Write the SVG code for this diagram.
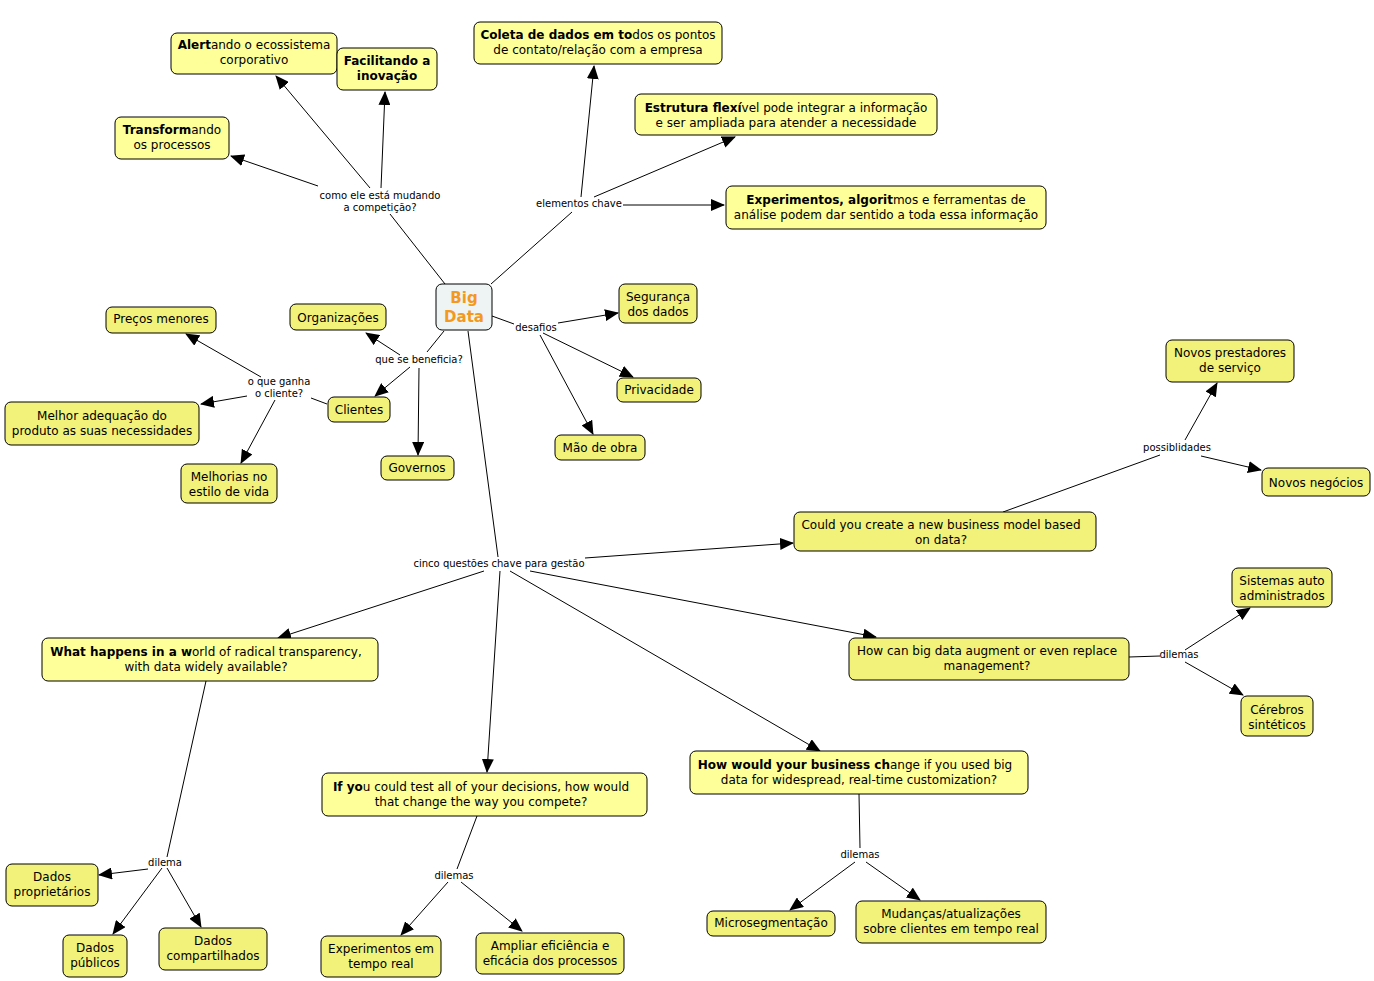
<svg xmlns="http://www.w3.org/2000/svg" width="1374" height="981" viewBox="0 0 1374 981">
<style>
.n1{fill:#ffff99;stroke:#000;stroke-width:1}
.n2{fill:#f2f27a;stroke:#000;stroke-width:1}
.nc{fill:#eef4f4;stroke:#000;stroke-width:1}
text{font-family:"DejaVu Sans","Liberation Sans",sans-serif;fill:#000}
.t{font-size:12px;text-anchor:middle}
.b{font-weight:bold}
.l{font-size:10px;text-anchor:middle}
.c{font-size:15px;font-weight:bold;fill:#f39a1e;text-anchor:middle}
#links line,#links polyline{stroke:#000;stroke-width:1;fill:none}
.a{marker-end:url(#ah)}
</style>
<defs>
<marker id="ah" markerUnits="userSpaceOnUse" markerWidth="14" markerHeight="12" viewBox="0 0 14 12" refX="13" refY="6" orient="auto">
<path d="M0,0 L14,6 L0,12 z" fill="#000"/>
</marker>
</defs>
<rect width="1374" height="981" fill="#fff"/>
<g id="links">
<line x1="445" y1="284" x2="390" y2="214"/>
<line class="a" x1="318" y1="186" x2="231" y2="156"/>
<line class="a" x1="370" y1="188" x2="276" y2="76"/>
<line class="a" x1="381" y1="188" x2="385" y2="92"/>
<line x1="491" y1="284" x2="572" y2="212"/>
<line class="a" x1="581" y1="197" x2="594" y2="66"/>
<line class="a" x1="594" y1="197" x2="735" y2="137"/>
<line class="a" x1="623" y1="205" x2="724" y2="205"/>
<line x1="492" y1="316" x2="514" y2="324"/>
<line class="a" x1="558" y1="323" x2="618" y2="313"/>
<line class="a" x1="543" y1="333" x2="633" y2="377"/>
<line class="a" x1="540" y1="335" x2="593" y2="434"/>
<line x1="444" y1="331" x2="427" y2="352"/>
<line class="a" x1="400" y1="355" x2="366" y2="333"/>
<line class="a" x1="410" y1="367" x2="375" y2="396"/>
<line class="a" x1="419" y1="368" x2="418" y2="455"/>
<line x1="327" y1="404" x2="311" y2="398"/>
<line class="a" x1="261" y1="377" x2="186" y2="334"/>
<line class="a" x1="247" y1="396" x2="201" y2="404"/>
<line class="a" x1="275" y1="400" x2="241" y2="463"/>
<line x1="468" y1="331" x2="498" y2="557"/>
<line class="a" x1="585" y1="558" x2="793" y2="543"/>
<line class="a" x1="484" y1="571" x2="278" y2="638"/>
<line class="a" x1="500" y1="571" x2="487" y2="772"/>
<line class="a" x1="510" y1="571" x2="820" y2="751"/>
<line class="a" x1="530" y1="571" x2="876" y2="637"/>
<line x1="1003" y1="512" x2="1160" y2="455"/>
<line class="a" x1="1185" y1="440" x2="1217" y2="383"/>
<line class="a" x1="1201" y1="456" x2="1261" y2="470"/>
<line x1="1129" y1="657" x2="1160" y2="656"/>
<line class="a" x1="1185" y1="650" x2="1250" y2="608"/>
<line class="a" x1="1185" y1="662" x2="1243" y2="695"/>
<line x1="206" y1="681" x2="167" y2="857"/>
<line class="a" x1="148" y1="869" x2="99" y2="875"/>
<line class="a" x1="162" y1="868" x2="113" y2="934"/>
<line class="a" x1="167" y1="868" x2="201" y2="927"/>
<line x1="477" y1="816" x2="457" y2="869"/>
<line class="a" x1="448" y1="882" x2="401" y2="935"/>
<line class="a" x1="461" y1="882" x2="522" y2="931"/>
<line x1="859" y1="794" x2="860" y2="848"/>
<line class="a" x1="855" y1="862" x2="790" y2="910"/>
<line class="a" x1="866" y1="862" x2="920" y2="900"/>
</g>
<g id="linklabels">
<text class="l" x="380" y="199">como ele está mudando</text>
<text class="l" x="380" y="211">a competição?</text>
<text class="l" x="579" y="207">elementos chave</text>
<text class="l" x="536" y="331">desafios</text>
<text class="l" x="419" y="363">que se beneficia?</text>
<text class="l" x="279" y="385">o que ganha</text>
<text class="l" x="279" y="397">o cliente?</text>
<text class="l" x="1177" y="451">possiblidades</text>
<text class="l" x="499" y="567">cinco questões chave para gestão</text>
<text class="l" x="1179" y="658">dilemas</text>
<text class="l" x="165" y="866">dilema</text>
<text class="l" x="454" y="879">dilemas</text>
<text class="l" x="860" y="858">dilemas</text>
</g>
<g id="n-bigdata"><rect class="nc" x="436" y="284" width="56" height="46" rx="6"/><text class="c" x="464" y="303">Big</text><text class="c" x="464" y="322">Data</text></g>
<g id="n-alertando"><rect class="n1" x="171" y="33" width="166" height="41" rx="6"/><text class="t" x="254" y="49"><tspan class="b">Alert</tspan>ando o ecossistema</text><text class="t" x="254" y="64">corporativo</text></g>
<g id="n-facilitando"><rect class="n1" x="337" y="48" width="100" height="42" rx="6"/><text class="t b" x="387" y="65">Facilitando a</text><text class="t b" x="387" y="80">inovação</text></g>
<g id="n-transformando"><rect class="n1" x="115" y="117" width="114" height="42" rx="6"/><text class="t" x="172" y="134"><tspan class="b">Transform</tspan>ando</text><text class="t" x="172" y="149">os processos</text></g>
<g id="n-coleta"><rect class="n1" x="474" y="22" width="248" height="42" rx="6"/><text class="t" x="598" y="39"><tspan class="b">Coleta de dados em to</tspan>dos os pontos</text><text class="t" x="598" y="54">de contato/relação com a empresa</text></g>
<g id="n-estrutura"><rect class="n1" x="635" y="94" width="302" height="41" rx="6"/><text class="t" x="786" y="112"><tspan class="b">Estrutura flexí</tspan>vel pode integrar a informação</text><text class="t" x="786" y="127">e ser ampliada para atender a necessidade</text></g>
<g id="n-experimentos"><rect class="n1" x="726" y="186" width="320" height="43" rx="6"/><text class="t" x="886" y="204"><tspan class="b">Experimentos, algorit</tspan>mos e ferramentas de</text><text class="t" x="886" y="219">análise podem dar sentido a toda essa informação</text></g>
<g id="n-seguranca"><rect class="n2" x="619" y="284" width="78" height="39" rx="6"/><text class="t" x="658" y="301">Segurança</text><text class="t" x="658" y="316">dos dados</text></g>
<g id="n-privacidade"><rect class="n2" x="617" y="378" width="84" height="24" rx="6"/><text class="t" x="659" y="394">Privacidade</text></g>
<g id="n-maodeobra"><rect class="n2" x="555" y="435" width="90" height="25" rx="6"/><text class="t" x="600" y="452">Mão de obra</text></g>
<g id="n-organizacoes"><rect class="n2" x="290" y="304" width="96" height="26" rx="6"/><text class="t" x="338" y="322">Organizações</text></g>
<g id="n-clientes"><rect class="n2" x="328" y="397" width="62" height="25" rx="6"/><text class="t" x="359" y="414">Clientes</text></g>
<g id="n-governos"><rect class="n2" x="381" y="456" width="73" height="24" rx="6"/><text class="t" x="417" y="472">Governos</text></g>
<g id="n-precos"><rect class="n2" x="106" y="307" width="110" height="26" rx="6"/><text class="t" x="161" y="323">Preços menores</text></g>
<g id="n-melhor"><rect class="n2" x="5" y="402" width="194" height="43" rx="6"/><text class="t" x="102" y="420">Melhor adequação do</text><text class="t" x="102" y="435">produto as suas necessidades</text></g>
<g id="n-melhorias"><rect class="n2" x="181" y="464" width="96" height="39" rx="6"/><text class="t" x="229" y="481">Melhorias no</text><text class="t" x="229" y="496">estilo de vida</text></g>
<g id="n-novosprest"><rect class="n2" x="1166" y="340" width="128" height="42" rx="6"/><text class="t" x="1230" y="357">Novos prestadores</text><text class="t" x="1230" y="372">de serviço</text></g>
<g id="n-novosneg"><rect class="n2" x="1262" y="468" width="108" height="28" rx="6"/><text class="t" x="1316" y="487">Novos negócios</text></g>
<g id="n-could"><rect class="n2" x="794" y="512" width="302" height="39" rx="6"/><text class="t" x="941" y="529">Could you create a new business model based</text><text class="t" x="941" y="544">on data?</text></g>
<g id="n-sistemas"><rect class="n2" x="1232" y="568" width="100" height="39" rx="6"/><text class="t" x="1282" y="585">Sistemas auto</text><text class="t" x="1282" y="600">administrados</text></g>
<g id="n-howcan"><rect class="n2" x="849" y="638" width="280" height="42" rx="6"/><text class="t" x="987" y="655">How can big data augment or even replace</text><text class="t" x="987" y="670">management?</text></g>
<g id="n-cerebros"><rect class="n2" x="1241" y="696" width="72" height="40" rx="6"/><text class="t" x="1277" y="714">Cérebros</text><text class="t" x="1277" y="729">sintéticos</text></g>
<g id="n-whathappens"><rect class="n1" x="42" y="638" width="336" height="43" rx="6"/><text class="t" x="206" y="656"><tspan class="b">What happens in a w</tspan>orld of radical transparency,</text><text class="t" x="206" y="671">with data widely available?</text></g>
<g id="n-ifyou"><rect class="n1" x="322" y="773" width="325" height="43" rx="6"/><text class="t" x="481" y="791"><tspan class="b">If yo</tspan>u could test all of your decisions, how would</text><text class="t" x="481" y="806">that change the way you compete?</text></g>
<g id="n-howwould"><rect class="n1" x="690" y="751" width="338" height="43" rx="6"/><text class="t" x="855" y="769"><tspan class="b">How would your business ch</tspan>ange if you used big</text><text class="t" x="859" y="784">data for widespread, real-time customization?</text></g>
<g id="n-dadosprop"><rect class="n2" x="6" y="864" width="92" height="42" rx="6"/><text class="t" x="52" y="881">Dados</text><text class="t" x="52" y="896">proprietários</text></g>
<g id="n-dadospub"><rect class="n2" x="63" y="935" width="64" height="42" rx="6"/><text class="t" x="95" y="952">Dados</text><text class="t" x="95" y="967">públicos</text></g>
<g id="n-dadoscomp"><rect class="n2" x="159" y="928" width="108" height="42" rx="6"/><text class="t" x="213" y="945">Dados</text><text class="t" x="213" y="960">compartilhados</text></g>
<g id="n-exptempo"><rect class="n2" x="321" y="936" width="120" height="41" rx="6"/><text class="t" x="381" y="953">Experimentos em</text><text class="t" x="381" y="968">tempo real</text></g>
<g id="n-ampliar"><rect class="n2" x="476" y="933" width="148" height="41" rx="6"/><text class="t" x="550" y="950">Ampliar eficiência e</text><text class="t" x="550" y="965">eficácia dos processos</text></g>
<g id="n-microseg"><rect class="n2" x="707" y="911" width="128" height="25" rx="6"/><text class="t" x="771" y="927">Microsegmentação</text></g>
<g id="n-mudancas"><rect class="n2" x="856" y="901" width="190" height="42" rx="6"/><text class="t" x="951" y="918">Mudanças/atualizações</text><text class="t" x="951" y="933">sobre clientes em tempo real</text></g>
</svg>
